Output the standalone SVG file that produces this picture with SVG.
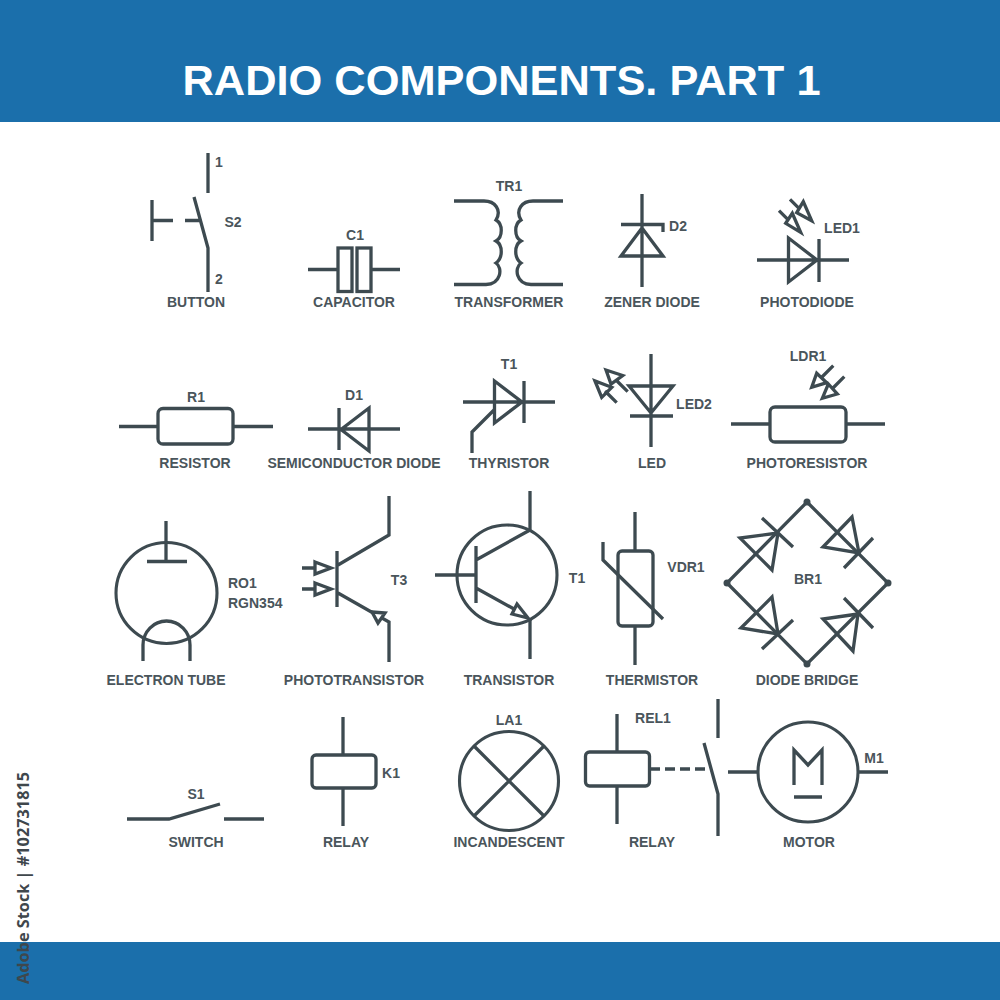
<svg xmlns="http://www.w3.org/2000/svg" width="1000" height="1000" viewBox="0 0 1000 1000">
<style>
.s{fill:none;stroke:#3d4a50;stroke-width:3.3;stroke-linejoin:miter;stroke-miterlimit:6}
.t{fill:none;stroke:#3d4a50;stroke-width:3.1}
.d{fill:#3d4a50}
text{font-family:"Liberation Sans",Arial,sans-serif;font-weight:700;font-size:14px;fill:#4a555b;text-anchor:middle}
.l{text-anchor:start}
</style>
<rect width="1000" height="1000" fill="#fff"/>
<g id="header"><rect width="1000" height="122" fill="#1b6fab"/>
<text x="501.500" y="95" style="font-size:43.400px;fill:#fff">RADIO COMPONENTS. PART 1</text></g>
<g id="footer"><rect y="942" width="1000" height="58" fill="#1b6fab"/></g>
<text id="stock-id" transform="translate(29,984) rotate(-90)" class="l" style="font-family:'Open Sans',sans-serif;font-weight:700;font-size:16.300px;fill:#3f474c">Adobe Stock | #102731815</text>

<g id="button">
<path class="s" d="M208 153V193M194 197L208 248V292M152 200V241M152 220.500H173M185 220.500H200"/>
<text x="219" y="167">1</text><text x="233" y="227">S2</text><text x="219" y="284">2</text><text x="196" y="307">BUTTON</text>
</g>
<g id="capacitor">
<path class="s" d="M308 269.500H338M371 269.500H400"/><rect class="s" x="338" y="248" width="14" height="43.500"/><rect class="s" x="357" y="248" width="14" height="43.500"/>
<text x="355" y="240">C1</text><text x="354" y="307">CAPACITOR</text>
</g>
<g id="transformer">
<path class="s" d="M454 201H484C495 201 502 210 496 220C503 224 503 237 496 241C503 245 503 258 496 263C503 268 501 284 486 284.500H454"/>
<path class="s" d="M563 201H533C522 201 515 210 521 220C514 224 514 237 521 241C514 245 514 258 521 263C514 268 516 284 531 284.500H563"/>
<text x="509" y="191">TR1</text><text x="509" y="307">TRANSFORMER</text>
</g>
<g id="zener-diode">
<path class="s" d="M642 194V287M621 224.500H663V232M642 228L621 256H663Z"/>
<text x="678" y="231">D2</text><text x="652" y="307">ZENER DIODE</text>
</g>
<g id="photodiode">
<path class="s" d="M757 260H849M788.500 238V282L817 260ZM819 239V282"/>
<path class="s" d="M790 199.300L800 209.300M811.700 220.700L796.700 212.700L803.300 201.700ZM779 210.700L789 220.700M800.700 232.300L785.700 223.300L792.300 213.300Z"/>
<text x="842" y="233">LED1</text><text x="807" y="307">PHOTODIODE</text>
</g>

<g id="resistor">
<path class="s" d="M119 426.500H157M234 426.500H273"/><rect class="s" x="158" y="408.500" width="75" height="35.500" rx="5"/>
<text x="196" y="402">R1</text><text x="195" y="468">RESISTOR</text>
</g>
<g id="semiconductor-diode">
<path class="s" d="M308 429H400M339 408V450M369 408V451L341 429.500Z"/>
<text x="354" y="400">D1</text><text x="354" y="468">SEMICONDUCTOR DIODE</text>
</g>
<g id="thyristor">
<path class="s" d="M463 402H555M494.500 381V423L522 402ZM524 381V423M472 453V432L494 410"/>
<text x="509" y="369">T1</text><text x="509" y="468">THYRISTOR</text>
</g>
<g id="led">
<path class="s" d="M651 354V447M629 386H673L651 413ZM630 416H673"/>
<path class="s" d="M627.700 391.700L616 380M606 370L611 384L622.700 375.500ZM616.700 402.700L605 391M595 381L601.700 397.300L611.700 387.300Z"/>
<text x="694" y="409">LED2</text><text x="652" y="468">LED</text>
</g>
<g id="photoresistor">
<path class="s" d="M833.300 365.700L821 378M811.700 387.300L816.700 373.300L826.700 382.700ZM844.300 376.700L832 389M822.300 398.300L828.300 384L837.300 394Z"/>
<path class="s" d="M731 424H769M846 424H885"/><rect class="s" x="770" y="407" width="76" height="35" rx="5"/>
<text x="808" y="361">LDR1</text><text x="807" y="468">PHOTORESISTOR</text>
</g>

<g id="electron-tube">
<circle class="t" cx="166.500" cy="593" r="50.500"/>
<path class="s" d="M166 521V562M147 561.500H187M143 661V645A23.500 24 0 0 1 190 645V661"/>
<text class="l" x="228" y="588">RO1</text><text class="l" x="228" y="608">RGN354</text><text x="166" y="685">ELECTRON TUBE</text>
</g>
<g id="phototransistor">
<path class="s" d="M337 551V607M338 565L389 535V496M338 593L389 622V662"/>
<path class="s" d="M372 612L385 613L378 623Z" style="fill:#fff"/>
<path class="s" d="M302 568H315M315 562L331 568L315 574ZM302 589H315M315 583L331 589L315 595Z"/>
<text x="399" y="585">T3</text><text x="354" y="685">PHOTOTRANSISTOR</text>
</g>
<g id="transistor">
<circle class="t" cx="507" cy="575" r="50"/>
<path class="s" d="M530 491V530M530 618V659M435 575H475M476 546V603M476 560L530 530M476 588L514 609"/>
<path class="s" d="M528 618L517 604L512 614Z"/>
<text x="577" y="583">T1</text><text x="509" y="685">TRANSISTOR</text>
</g>
<g id="thermistor">
<path class="s" d="M635 512V551M635 626V665M603 542V560L663 619"/><rect class="s" x="618" y="551" width="35" height="75" rx="4"/>
<text x="686" y="572">VDR1</text><text x="652" y="685">THERMISTOR</text>
</g>
<g id="diode-bridge">
<path class="s" d="M807 502L888 583L807 664L727 583Z"/>
<path class="s" d="M762 518L793 547M778 533L740 538L772 570ZM873 538L844 568M859 553L852 517L823 547ZM793 620L762 649M778 634L772 597L741 628ZM844 598L873 628M858 614L823 619L853 651Z"/>
<circle class="d" cx="807" cy="502" r="3.500"/><circle class="d" cx="888" cy="583" r="3.500"/><circle class="d" cx="807" cy="664" r="3.500"/><circle class="d" cx="727" cy="583" r="3.500"/>
<text x="808" y="584">BR1</text><text x="807" y="685">DIODE BRIDGE</text>
</g>

<g id="switch">
<path class="s" d="M127 819H169L220 804M224 819H264"/>
<text x="196" y="799">S1</text><text x="196" y="847">SWITCH</text>
</g>
<g id="relay-k1">
<path class="s" d="M343 717V755M343 788V826"/><rect class="s" x="312" y="755" width="64" height="33" rx="4"/>
<text x="391" y="778">K1</text><text x="346" y="847">RELAY</text>
</g>
<g id="incandescent">
<circle class="t" cx="509" cy="781" r="49.500"/>
<path class="s" d="M474.500 746.500L543.500 815.500M543.500 746.500L474.500 815.500"/>
<text x="509" y="725">LA1</text><text x="509" y="847">INCANDESCENT</text>
</g>
<g id="relay-rel1">
<path class="s" d="M617 714V752M617 786V824"/><rect class="s" x="585.500" y="752" width="64" height="34" rx="4"/>
<path class="s" stroke-dasharray="10 5" d="M650 769H708"/>
<path class="s" d="M718 699V738M704 743L718 794V836"/>
<text x="653" y="723">REL1</text><text x="652" y="847">RELAY</text>
</g>
<g id="motor">
<circle class="t" cx="808" cy="772" r="50"/>
<path class="s" d="M728 772H757M858 772H888M794 785V750L808 765L822 750V785M794 797H822"/>
<text x="874" y="763">M1</text><text x="809" y="847">MOTOR</text>
</g>
</svg>
